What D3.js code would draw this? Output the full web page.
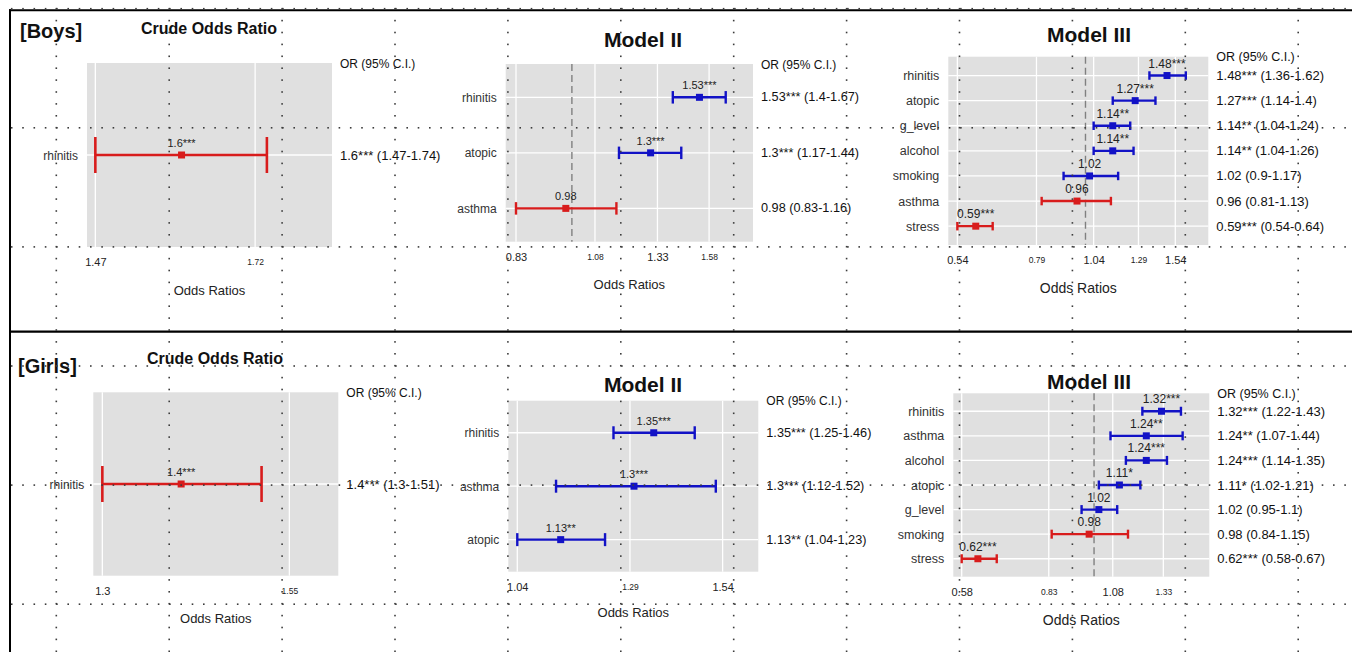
<!DOCTYPE html>
<html>
<head>
<meta charset="utf-8">
<script src="https://cdn.jsdelivr.net/npm/d3@7"></script>
<style>
  body { margin: 0; background: #fff; }
  svg { display: block; font-family: "Liberation Sans", Arial, sans-serif; }
</style>
</head>
<body>
<div id="chart"></div>
<script>
// ############################################################################
// #########################    DATA    #######################################
// ############################################################################

// Boys
const boysCrudeVars = ["rhinitis"];
const boysCrudeOR = [1.6];
const boysCrudeLo = [1.47];
const boysCrudeHi = [1.74];
const boysCrudeSig = ["***"];
const boysCrudeTicks = [1.47, 1.72];

const boysM2Vars = ["rhinitis", "atopic", "asthma"];
const boysM2OR = [1.53, 1.3, 0.98];
const boysM2Lo = [1.4, 1.17, 0.83];
const boysM2Hi = [1.67, 1.44, 1.16];
const boysM2Sig = ["***", "***", ""];
const boysM2Ticks = [0.83, 1.08, 1.33, 1.58];

const boysM3Vars = ["rhinitis", "atopic", "g_level", "alcohol", "smoking", "asthma", "stress"];
const boysM3OR = [1.48, 1.27, 1.14, 1.14, 1.02, 0.96, 0.59];
const boysM3Lo = [1.36, 1.14, 1.04, 1.04, 0.9, 0.81, 0.54];
const boysM3Hi = [1.62, 1.4, 1.24, 1.26, 1.17, 1.13, 0.64];
const boysM3Sig = ["***", "***", "**", "**", "", "", "***"];
const boysM3Ticks = [0.54, 0.79, 1.04, 1.29, 1.54];

// Girls
const girlsCrudeVars = ["rhinitis"];
const girlsCrudeOR = [1.4];
const girlsCrudeLo = [1.3];
const girlsCrudeHi = [1.51];
const girlsCrudeSig = ["***"];
const girlsCrudeTicks = [1.3, 1.55];

const girlsM2Vars = ["rhinitis", "asthma", "atopic"];
const girlsM2OR = [1.35, 1.3, 1.13];
const girlsM2Lo = [1.25, 1.12, 1.04];
const girlsM2Hi = [1.46, 1.52, 1.23];
const girlsM2Sig = ["***", "***", "**"];
const girlsM2Ticks = [1.04, 1.29, 1.54];

const girlsM3Vars = ["rhinitis", "asthma", "alcohol", "atopic", "g_level", "smoking", "stress"];
const girlsM3OR = [1.32, 1.24, 1.24, 1.11, 1.02, 0.98, 0.62];
const girlsM3Lo = [1.22, 1.07, 1.14, 1.02, 0.95, 0.84, 0.58];
const girlsM3Hi = [1.43, 1.44, 1.35, 1.21, 1.1, 1.15, 0.67];
const girlsM3Sig = ["***", "**", "***", "*", "", "", "***"];
const girlsM3Ticks = [0.58, 0.83, 1.08, 1.33];

// ############################################################################
// #########################    LAYOUT    #####################################
// ############################################################################

const width = 1352;
const height = 652;
const red = "#d81c1c";
const blue = "#1212c6";

const panels = [
  { vars: boysCrudeVars, or: boysCrudeOR, lo: boysCrudeLo, hi: boysCrudeHi, sig: boysCrudeSig, ticks: boysCrudeTicks,
    domain: [1.458, 1.855], x0: 87, x1: 332, y0: 63, y1: 247, pad: 0.6, cap: 36, allRed: true,
    title: "Crude Odds Ratio", titleX: 209, titleY: 28, titleSize: 16, xlabY: 290, xlabSize: 13,
    catSize: 12, valSize: 11, rightSize: 13, orSize: 12 },
  { vars: boysM2Vars, or: boysM2OR, lo: boysM2Lo, hi: boysM2Hi, sig: boysM2Sig, ticks: boysM2Ticks,
    domain: [0.802, 1.829], x0: 505.7, x1: 753, y0: 64, y1: 241.7, pad: 0.6, cap: 12.5,
    title: "Model II", titleX: 643, titleY: 39, titleSize: 21, xlabY: 284, xlabSize: 13,
    catSize: 12, valSize: 11, rightSize: 12.7, orSize: 12 },
  { vars: boysM3Vars, or: boysM3OR, lo: boysM3Lo, hi: boysM3Hi, sig: boysM3Sig, ticks: boysM3Ticks,
    domain: [0.517, 1.805], x0: 948.3, x1: 1208.3, y0: 56.7, y1: 245, pad: 0.75, cap: 8.5,
    title: "Model III", titleX: 1089, titleY: 34, titleSize: 21, xlabY: 288, xlabSize: 14,
    catSize: 12.5, valSize: 12, rightSize: 13, orSize: 12.5 },
  { vars: girlsCrudeVars, or: girlsCrudeOR, lo: girlsCrudeLo, hi: girlsCrudeHi, sig: girlsCrudeSig, ticks: girlsCrudeTicks,
    domain: [1.289, 1.623], x0: 93.3, x1: 338.3, y0: 392.3, y1: 575.7, pad: 0.6, cap: 36, allRed: true,
    title: "Crude Odds Ratio", titleX: 215, titleY: 358, titleSize: 16, xlabY: 618, xlabSize: 13,
    catSize: 12, valSize: 11, rightSize: 13, orSize: 12 },
  { vars: girlsM2Vars, or: girlsM2OR, lo: girlsM2Lo, hi: girlsM2Hi, sig: girlsM2Sig, ticks: girlsM2Ticks,
    domain: [1.0223, 1.6487], x0: 508.3, x1: 758.3, y0: 400.7, y1: 571.7, pad: 0.6, cap: 13,
    title: "Model II", titleX: 643, titleY: 384, titleSize: 21, xlabY: 612, xlabSize: 13,
    catSize: 12, valSize: 11, rightSize: 12.7, orSize: 12 },
  { vars: girlsM3Vars, or: girlsM3OR, lo: girlsM3Lo, hi: girlsM3Hi, sig: girlsM3Sig, ticks: girlsM3Ticks,
    domain: [0.5603, 1.607], x0: 953.3, x1: 1209.3, y0: 393.3, y1: 576.7, pad: 0.73, cap: 9,
    title: "Model III", titleX: 1089, titleY: 381, titleSize: 21, xlabY: 620, xlabSize: 14,
    catSize: 12.5, valSize: 12, rightSize: 13, orSize: 12.5 }
];

const svg = d3.select("#chart")
    .append("svg")
    .attr("width", width)
    .attr("height", height);

svg.append("rect").attr("width", width).attr("height", height).attr("fill", "#fff");

// ############################################################################
// #########################    PANELS    #####################################
// ############################################################################

function drawPanel(p) {
  const g = svg.append("g");
  const x = d3.scaleLog().domain(p.domain).range([p.x0, p.x1]);
  const y = d3.scalePoint().domain(p.vars).range([p.y0, p.y1]).padding(p.pad);

  g.append("rect")
      .attr("x", p.x0).attr("y", p.y0)
      .attr("width", p.x1 - p.x0).attr("height", p.y1 - p.y0)
      .attr("fill", "#e0e0e0");

  g.selectAll(".vgrid").data(p.ticks).join("line")
      .attr("class", "vgrid")
      .attr("x1", d => x(d)).attr("x2", d => x(d))
      .attr("y1", p.y0).attr("y2", p.y1)
      .attr("stroke", "#fff").attr("stroke-width", 1.3);

  g.selectAll(".hgrid").data(p.vars).join("line")
      .attr("class", "hgrid")
      .attr("x1", p.x0).attr("x2", p.x1)
      .attr("y1", d => y(d)).attr("y2", d => y(d))
      .attr("stroke", "#fff").attr("stroke-width", 1.3);

  // reference line at OR = 1
  if (p.domain[0] < 1 && p.domain[1] > 1) {
    g.append("line")
        .attr("x1", x(1)).attr("x2", x(1))
        .attr("y1", p.y0).attr("y2", p.y1)
        .attr("stroke", "#808080").attr("stroke-width", 1.4)
        .attr("stroke-dasharray", "7 4");
  }

  // x axis
  const ax = g.append("g")
      .attr("transform", `translate(0,${p.y1})`)
      .call(d3.axisBottom(x).tickValues(p.ticks).tickFormat(d => String(d)).tickSize(0));
  ax.attr("font-family", null).attr("font-size", null);
  ax.select(".domain").remove();
  ax.selectAll("text")
      .attr("dy", null).attr("y", 15)
      .attr("dominant-baseline", "central")
      .attr("font-size", (d, i) => i % 2 ? 8.5 : 11)
      .attr("fill", "#222");

  // y axis
  const ay = g.append("g")
      .attr("transform", `translate(${p.x0},0)`)
      .call(d3.axisLeft(y).tickSize(0).tickPadding(9));
  ay.attr("font-family", null).attr("font-size", null);
  ay.select(".domain").remove();
  ay.selectAll("text")
      .attr("dy", null)
      .attr("dominant-baseline", "central")
      .attr("font-size", p.catSize)
      .attr("fill", "#333");

  const rows = p.vars.map((v, i) => ({ v: v, or: p.or[i], lo: p.lo[i], hi: p.hi[i], sig: p.sig[i] }));
  const col = d => (p.allRed || d.or < 1) ? red : blue;
  const lw = p.cap > 20 ? 2.6 : 2.4;

  g.selectAll(".bar").data(rows).join("line")
      .attr("class", "bar")
      .attr("x1", d => x(d.lo)).attr("x2", d => x(d.hi))
      .attr("y1", d => y(d.v)).attr("y2", d => y(d.v))
      .attr("stroke", col).attr("stroke-width", lw);

  g.selectAll(".capL").data(rows).join("line")
      .attr("class", "capL")
      .attr("x1", d => x(d.lo)).attr("x2", d => x(d.lo))
      .attr("y1", d => y(d.v) - p.cap / 2).attr("y2", d => y(d.v) + p.cap / 2)
      .attr("stroke", col).attr("stroke-width", lw);

  g.selectAll(".capR").data(rows).join("line")
      .attr("class", "capR")
      .attr("x1", d => x(d.hi)).attr("x2", d => x(d.hi))
      .attr("y1", d => y(d.v) - p.cap / 2).attr("y2", d => y(d.v) + p.cap / 2)
      .attr("stroke", col).attr("stroke-width", lw);

  g.selectAll(".pt").data(rows).join("rect")
      .attr("class", "pt")
      .attr("x", d => x(d.or) - 3.5).attr("y", d => y(d.v) - 3.5)
      .attr("width", 7).attr("height", 7)
      .attr("fill", col);

  g.selectAll(".val").data(rows).join("text")
      .attr("class", "val")
      .attr("x", d => x(d.or)).attr("y", d => y(d.v) - 12)
      .attr("text-anchor", "middle")
      .attr("dominant-baseline", "central")
      .attr("font-size", p.valSize)
      .attr("fill", "#222")
      .text(d => d.or + d.sig);

  // right-hand OR (95% C.I.) column
  g.append("text")
      .attr("x", p.x1 + 8).attr("y", p.y0 + 0.5)
      .attr("dominant-baseline", "central")
      .attr("font-size", p.orSize)
      .attr("fill", "#111")
      .text("OR (95% C.I.)");

  g.selectAll(".ci").data(rows).join("text")
      .attr("class", "ci")
      .attr("x", p.x1 + 8).attr("y", d => y(d.v))
      .attr("dominant-baseline", "central")
      .attr("font-size", p.rightSize)
      .attr("fill", "#111")
      .text(d => `${d.or}${d.sig} (${d.lo}-${d.hi})`);

  g.append("text")
      .attr("x", p.titleX).attr("y", p.titleY)
      .attr("text-anchor", "middle")
      .attr("dominant-baseline", "central")
      .attr("font-weight", "bold")
      .attr("font-size", p.titleSize)
      .attr("fill", "#111")
      .text(p.title);

  g.append("text")
      .attr("x", (p.x0 + p.x1) / 2).attr("y", p.xlabY)
      .attr("text-anchor", "middle")
      .attr("dominant-baseline", "central")
      .attr("font-size", p.xlabSize)
      .attr("fill", "#222")
      .text("Odds Ratios");
}

panels.forEach(drawPanel);

// group labels
svg.append("text").attr("x", 20).attr("y", 31)
    .attr("dominant-baseline", "central")
    .attr("font-weight", "bold").attr("font-size", 20).attr("fill", "#111")
    .text("[Boys]");
svg.append("text").attr("x", 18).attr("y", 366)
    .attr("dominant-baseline", "central")
    .attr("font-weight", "bold").attr("font-size", 20).attr("fill", "#111")
    .text("[Girls]");

// ############################################################################
// #########################    FRAME + DOTTED GRID    ########################
// ############################################################################

const frame = svg.append("g").attr("stroke", "#000");
frame.append("line").attr("x1", 9).attr("x2", width).attr("y1", 10.3).attr("y2", 10.3).attr("stroke-width", 2);
frame.append("line").attr("x1", 10).attr("x2", 10).attr("y1", 9.3).attr("y2", height).attr("stroke-width", 2);
frame.append("line").attr("x1", 9).attr("x2", width).attr("y1", 331.7).attr("y2", 331.7).attr("stroke-width", 2.2);

const gridX = d3.range(12).map(k => 56.3 + 112.9 * k);
const gridY = d3.range(6).map(k => 8.7 + 119.1 * k);
const dotsV = [];
gridX.forEach(gx => d3.range(8.7, height, 11.9).forEach(dy => dotsV.push([gx, dy])));
const dotsH = [];
gridY.forEach(gy => d3.range(11.7, width, 11.3).forEach(dx => dotsH.push([dx, gy])));

svg.append("g").selectAll("rect").data(dotsV.concat(dotsH)).join("rect")
    .attr("x", d => d[0] - 0.8).attr("y", d => d[1] - 0.8)
    .attr("width", 1.6).attr("height", 1.6)
    .attr("fill", "#3c3c3c");
</script>
</body>
</html>
